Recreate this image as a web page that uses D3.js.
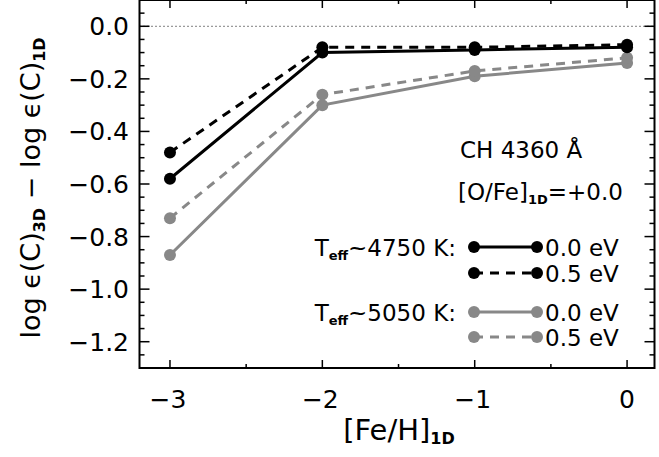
<!DOCTYPE html>
<html>
<head>
<meta charset="utf-8">
<script src="https://cdn.jsdelivr.net/npm/d3@7"></script>
<style>
  body { margin: 0; background: #fff; }
  text { font-family: "DejaVu Sans", sans-serif; fill: #000; }
</style>
</head>
<body>
<script>
// [Fe/H]_1D values
var feh = [-3, -2, -1, 0];

// 3D - 1D abundance corrections, CH 4360 A
var cool00 = [-0.58, -0.10, -0.09, -0.08];   // Teff~4750 K, 0.0 eV
var cool05 = [-0.48, -0.08, -0.08, -0.07];   // Teff~4750 K, 0.5 eV
var warm00 = [-0.87, -0.30, -0.19, -0.14];   // Teff~5050 K, 0.0 eV
var warm05 = [-0.73, -0.26, -0.17, -0.12];   // Teff~5050 K, 0.5 eV

var xTicks = [-3, -2, -1, 0];
var xMinor = [-2.5, -1.5, -0.5];
var yTicks = [0.0, -0.2, -0.4, -0.6, -0.8, -1.0, -1.2];

var width = 659, height = 457;
var grey = "#888888";

var svg = d3.select("body").append("svg")
    .attr("width", width)
    .attr("height", height);

var x = d3.scaleLinear().domain([-3.2, 0.18]).range([139.5, 654.5]);
var y = d3.scaleLinear().domain([-1.3, 0.1]).range([368, 0]);

var fmtY = function(d) { return d3.format(".1f")(d).replace("-", "\u2212"); };
var fmtX = function(d) { return String(d).replace("-", "\u2212"); };

// minor y ticks every 0.05
var yMinor = d3.range(-1.25, 0.1, 0.05).filter(function(v) {
  return Math.abs(Math.round(v * 10) - v * 10) > 0.01 || Math.round(v*10) % 2 !== 0;
});

var frame = svg.append("g");

// zero line
frame.append("line")
    .attr("x1", x.range()[0]).attr("x2", x.range()[1])
    .attr("y1", y(0)).attr("y2", y(0))
    .attr("stroke", "#000").attr("stroke-width", 1)
    .attr("stroke-dasharray", "1,3");

function tickLines(g, vals, len, horiz) {
  vals.forEach(function(v) {
    if (horiz) {
      var yy = y(v);
      g.append("line").attr("x1", x.range()[0]).attr("x2", x.range()[0] + len)
        .attr("y1", yy).attr("y2", yy).attr("stroke", "#000").attr("stroke-width", 1.5);
      g.append("line").attr("x1", x.range()[1]).attr("x2", x.range()[1] - len)
        .attr("y1", yy).attr("y2", yy).attr("stroke", "#000").attr("stroke-width", 1.5);
    } else {
      var xx = x(v);
      g.append("line").attr("x1", xx).attr("x2", xx)
        .attr("y1", y.range()[0]).attr("y2", y.range()[0] - len).attr("stroke", "#000").attr("stroke-width", 1.5);
      g.append("line").attr("x1", xx).attr("x2", xx)
        .attr("y1", y.range()[1]).attr("y2", y.range()[1] + len).attr("stroke", "#000").attr("stroke-width", 1.5);
    }
  });
}
tickLines(frame, yTicks, 10, true);
tickLines(frame, yMinor, 5, true);
tickLines(frame, xTicks, 8, false);
tickLines(frame, xMinor, 4, false);

frame.append("rect")
    .attr("x", x.range()[0]).attr("y", y.range()[1])
    .attr("width", x.range()[1] - x.range()[0])
    .attr("height", y.range()[0] - y.range()[1])
    .attr("fill", "none").attr("stroke", "#000").attr("stroke-width", 2);

// tick labels
svg.selectAll(".ylab").data(yTicks).enter().append("text")
    .attr("x", 129).attr("y", function(d) { return y(d) + 9; })
    .attr("text-anchor", "end").attr("font-size", 25)
    .text(fmtY);
svg.selectAll(".xlab").data(xTicks).enter().append("text")
    .attr("x", function(d) { return x(d) - (d < 0 ? 2 : 0); })
    .attr("y", 408).attr("text-anchor", "middle").attr("font-size", 25)
    .text(fmtX);

// axis titles
var xt = svg.append("text").attr("x", 399).attr("y", 440)
    .attr("text-anchor", "middle").attr("font-size", 29);
xt.append("tspan").text("[Fe/H]");
xt.append("tspan").attr("font-size", 16).attr("font-weight", "bold").attr("dy", 4).text("1D");

var yt = svg.append("text")
    .attr("transform", "translate(40,188) rotate(-90)")
    .attr("text-anchor", "middle").attr("font-size", 27);
yt.append("tspan").text("log \u03f5(C)");
yt.append("tspan").attr("font-size", 16).attr("font-weight", "bold").attr("dy", 5).text("3D");
yt.append("tspan").attr("dy", -5).text("  \u2212  log \u03f5(C)");
yt.append("tspan").attr("font-size", 16).attr("font-weight", "bold").attr("dy", 5).text("1D");

// series
var series = [
  { vals: warm00, color: grey, dash: null },
  { vals: warm05, color: grey, dash: "9,7" },
  { vals: cool00, color: "#000", dash: null },
  { vals: cool05, color: "#000", dash: "9,7" }
];

var line = d3.line().x(function(d) { return x(d[0]); }).y(function(d) { return y(d[1]); });

series.forEach(function(s) {
  var pts = feh.map(function(f, i) { return [f, s.vals[i]]; });
  svg.append("path").datum(pts)
    .attr("d", line).attr("fill", "none")
    .attr("stroke", s.color).attr("stroke-width", 3)
    .attr("stroke-dasharray", s.dash);
  svg.selectAll(null).data(pts).enter().append("circle")
    .attr("cx", function(d) { return x(d[0]); })
    .attr("cy", function(d) { return y(d[1]); })
    .attr("r", 6).attr("fill", s.color);
});

// annotations
svg.append("text").attr("x", 460).attr("y", 158).attr("font-size", 23).text("CH 4360 \u00c5");
var of = svg.append("text").attr("x", 458).attr("y", 200).attr("font-size", 23);
of.append("tspan").text("[O/Fe]");
of.append("tspan").attr("font-size", 13).attr("font-weight", "bold").attr("dy", 4).text("1D");
of.append("tspan").attr("dy", -4).text("=+0.0");

// legend
var legendRows = [
  { teff: "4750", label: "0.0 eV", color: "#000", dash: null, y: 247 },
  { teff: null, label: "0.5 eV", color: "#000", dash: "9,7", y: 273 },
  { teff: "5050", label: "0.0 eV", color: grey, dash: null, y: 312 },
  { teff: null, label: "0.5 eV", color: grey, dash: "9,7", y: 337 }
];
legendRows.forEach(function(r) {
  svg.append("line").attr("x1", 474).attr("x2", 537).attr("y1", r.y).attr("y2", r.y)
    .attr("stroke", r.color).attr("stroke-width", 3).attr("stroke-dasharray", r.dash);
  [474, 537].forEach(function(cx) {
    svg.append("circle").attr("cx", cx).attr("cy", r.y).attr("r", 6).attr("fill", r.color);
  });
  svg.append("text").attr("x", 545).attr("y", r.y + 9).attr("font-size", 23).text(r.label);
  if (r.teff) {
    var t = svg.append("text").attr("x", 456).attr("y", r.y + 9)
      .attr("text-anchor", "end").attr("font-size", 23);
    t.append("tspan").text("T");
    t.append("tspan").attr("font-size", 13).attr("font-weight", "bold").attr("dy", 4).text("eff");
    t.append("tspan").attr("dy", -4).text("~" + r.teff + " K:");
  }
});
</script>
</body>
</html>
